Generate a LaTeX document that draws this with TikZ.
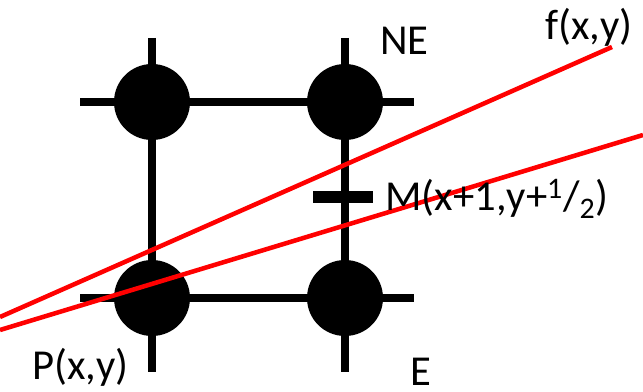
\documentclass[tikz,border=0pt]{standalone}
\usepackage{fontspec}
\setmainfont{Carlito}
\usepackage{tikz}
\usetikzlibrary{positioning,calc}

\begin{document}
\begin{tikzpicture}[
    x=0.75pt, y=-0.75pt,
    pixel/.style={circle, fill=black, minimum size=57pt, inner sep=0pt},
    gridline/.style={line width=6pt},
    tick/.style={line width=8.5pt},
    ray/.style={red, line width=3.4pt},
    lbl/.style={font=\fontsize{32}{36}\selectfont, inner sep=0pt, anchor=base west}
  ]
    \useasboundingbox (0,0) rectangle (643,392);
    \clip (0,0) rectangle (643,392);

    \coordinate (top1) at (152,38);
    \coordinate (bot1) at (152,372);
    \coordinate (top2) at (345,38);
    \coordinate (bot2) at (345,372);
    \coordinate (lft1) at (80,102);
    \coordinate (rgt1) at (414,102);
    \coordinate (lft2) at (80,298);
    \coordinate (rgt2) at (414,298);
    \coordinate (mid) at (345,197);

    \draw[gridline] (top1) -- (bot1);
    \draw[gridline] (top2) -- (bot2);
    \draw[gridline] (lft1) -- (rgt1);
    \draw[gridline] (lft2) -- (rgt2);
    \draw[tick] ($(mid)+(-32,0)$) -- ($(mid)+(28,0)$);

    \node[pixel] (nw) at (152,102) {};
    \node[pixel] (ne) at (345,102) {};
    \node[pixel] (p) at (152,298) {};
    \node[pixel] (e) at (345,298) {};

    \coordinate (f0) at (0,317);
    \coordinate (f1) at (612,47);
    \coordinate (m0) at (0,330);
    \coordinate (m1) at (643,135);
    \draw[ray] (f0) -- (f1);
    \draw[ray] (m0) -- (m1);

    \node[lbl] (nelbl) at (380,55) {NE};
    \node[lbl] (flbl) at (545,40) {f(x,y)};
    \node[lbl] (mlbl) at (385,211) {M(x+1,y+\textsuperscript{1}/\textsubscript{2})};
    \node[lbl] (plbl) at (32,379) {P(x,y)};
    \node[lbl] (elbl) at (410,385) {E};
  \end{tikzpicture}
\end{document}
